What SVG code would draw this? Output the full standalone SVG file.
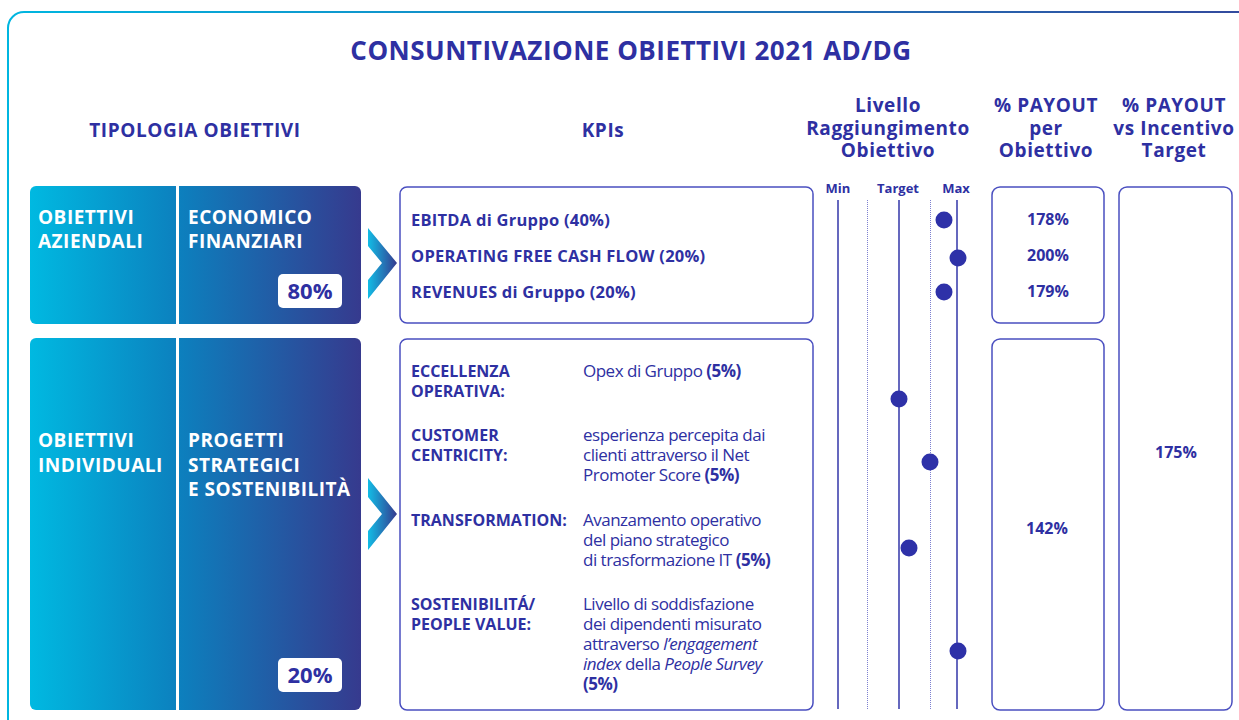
<svg xmlns="http://www.w3.org/2000/svg" width="1239" height="720" viewBox="0 0 1239 720">
  <defs>
    <linearGradient id="gFrame" x1="0" y1="0" x2="1" y2="0">
      <stop offset="0" stop-color="#00b6e0"/>
      <stop offset="1" stop-color="#34479c"/>
    </linearGradient>
    <linearGradient id="gBox" gradientUnits="userSpaceOnUse" x1="30" y1="0" x2="361" y2="0">
      <stop offset="0" stop-color="#00b9e1"/>
      <stop offset="0.45" stop-color="#0c80be"/>
      <stop offset="1" stop-color="#363a8e"/>
    </linearGradient>
    <linearGradient id="gChev" x1="0" y1="0" x2="1" y2="0">
      <stop offset="0" stop-color="#12bde6"/>
      <stop offset="1" stop-color="#35398e"/>
    </linearGradient>
    <style>
      text { font-family: "Open Sans", "Lato", "Liberation Sans", sans-serif; fill: #2e30a2; }
      .h { font-weight: 700; font-size: 19px; letter-spacing: 0.6px; }
      .title { font-weight: 700; font-size: 26px; letter-spacing: 0.5px; }
      .w { fill: #ffffff; font-weight: 700; font-size: 19px; letter-spacing: 0.5px; }
      .pct { font-weight: 700; font-size: 22px; }
      .kb { font-weight: 700; font-size: 16.5px; letter-spacing: 0.25px; }
      .lb { font-weight: 700; font-size: 16px; }
      .ds { font-weight: 400; font-size: 17px; letter-spacing: -0.5px; }
      .b { font-weight: 700; }
      .sm { font-weight: 700; font-size: 13px; }
      .val { font-weight: 700; font-size: 16px; }
      .box { fill: #ffffff; stroke: #4a4fc0; stroke-width: 1.5; }
      .solid { stroke: #3236a8; stroke-width: 1.5; }
      .dot { stroke: #7d80d0; stroke-width: 1; stroke-dasharray: 1 1; }
      .pt { fill: #2e31a8; }
    </style>
  </defs>

  <rect width="1239" height="720" fill="#ffffff"/>
  <rect x="8" y="12" width="1270" height="740" rx="16" fill="none" stroke="url(#gFrame)" stroke-width="2"/>

  <text class="title" x="631" y="60" text-anchor="middle">CONSUNTIVAZIONE OBIETTIVI 2021 AD/DG</text>

  <g id="headers">
    <text class="h" x="195" y="137" text-anchor="middle">TIPOLOGIA OBIETTIVI</text>
    <text class="h" x="603" y="137" text-anchor="middle">KPIs</text>
    <text class="h" x="888" y="112" text-anchor="middle">Livello</text>
    <text class="h" x="888" y="135" text-anchor="middle">Raggiungimento</text>
    <text class="h" x="888" y="157" text-anchor="middle">Obiettivo</text>
    <text class="h" x="1046" y="112" text-anchor="middle">% PAYOUT</text>
    <text class="h" x="1046" y="135" text-anchor="middle">per</text>
    <text class="h" x="1046" y="157" text-anchor="middle">Obiettivo</text>
    <text class="h" x="1174" y="112" text-anchor="middle">% PAYOUT</text>
    <text class="h" x="1174" y="135" text-anchor="middle">vs Incentivo</text>
    <text class="h" x="1174" y="157" text-anchor="middle">Target</text>
    <text class="sm" x="838" y="193" text-anchor="middle">Min</text>
    <text class="sm" x="898" y="193" text-anchor="middle">Target</text>
    <text class="sm" x="956" y="193" text-anchor="middle">Max</text>
  </g>

  <g id="obiettivi-aziendali">
    <rect x="30" y="186" width="331" height="138" rx="6" fill="url(#gBox)"/>
    <line x1="177.5" y1="186" x2="177.5" y2="324" stroke="#ffffff" stroke-width="3"/>
    <text class="w" x="38" y="224">OBIETTIVI</text>
    <text class="w" x="38" y="248">AZIENDALI</text>
    <text class="w" x="188" y="224">ECONOMICO</text>
    <text class="w" x="188" y="248">FINANZIARI</text>
    <rect x="278" y="274" width="64" height="34" rx="5" fill="#ffffff"/>
    <text class="pct" x="310" y="299" text-anchor="middle">80%</text>
  </g>

  <g id="obiettivi-individuali">
    <rect x="30" y="338" width="331" height="372" rx="6" fill="url(#gBox)"/>
    <line x1="177.5" y1="338" x2="177.5" y2="710" stroke="#ffffff" stroke-width="3"/>
    <text class="w" x="38" y="447">OBIETTIVI</text>
    <text class="w" x="38" y="472">INDIVIDUALI</text>
    <text class="w" x="188" y="447">PROGETTI</text>
    <text class="w" x="188" y="472">STRATEGICI</text>
    <text class="w" x="188" y="496">E SOSTENIBILITÀ</text>
    <rect x="278" y="658" width="64" height="34" rx="5" fill="#ffffff"/>
    <text class="pct" x="310" y="683" text-anchor="middle">20%</text>
  </g>

  <g id="connectors">
    <polygon points="368,228 397,263 368,299 368,280 382,263 368,246" fill="url(#gChev)"/>
    <polygon points="368,478 397,514 368,550 368,531 382,514 368,497" fill="url(#gChev)"/>
  </g>

  <g id="kpi-economici">
    <rect class="box" x="400" y="187" width="413" height="136" rx="7"/>
    <text class="kb" x="411" y="226">EBITDA di Gruppo (40%)</text>
    <text class="kb" x="411" y="262">OPERATING FREE CASH FLOW (20%)</text>
    <text class="kb" x="411" y="298">REVENUES di Gruppo (20%)</text>
  </g>

  <g id="kpi-individuali">
    <rect class="box" x="400" y="339" width="413" height="371" rx="7"/>
    <text class="lb" x="411" y="377">ECCELLENZA</text>
    <text class="lb" x="411" y="397">OPERATIVA:</text>
    <text class="ds" x="583" y="377">Opex di Gruppo <tspan class="b">(5%)</tspan></text>
    <text class="lb" x="411" y="441">CUSTOMER</text>
    <text class="lb" x="411" y="461">CENTRICITY:</text>
    <text class="ds" x="583" y="441">esperienza percepita dai</text>
    <text class="ds" x="583" y="461">clienti attraverso il Net</text>
    <text class="ds" x="583" y="481">Promoter Score <tspan class="b">(5%)</tspan></text>
    <text class="lb" x="411" y="526">TRANSFORMATION:</text>
    <text class="ds" x="583" y="526">Avanzamento operativo</text>
    <text class="ds" x="583" y="546">del piano strategico</text>
    <text class="ds" x="583" y="566">di trasformazione IT <tspan class="b">(5%)</tspan></text>
    <text class="lb" x="411" y="610">SOSTENIBILITÁ/</text>
    <text class="lb" x="411" y="630">PEOPLE VALUE:</text>
    <text class="ds" x="583" y="610">Livello di soddisfazione</text>
    <text class="ds" x="583" y="630">dei dipendenti misurato</text>
    <text class="ds" x="583" y="650">attraverso <tspan font-style="italic">l’engagement</tspan></text>
    <text class="ds" x="583" y="670"><tspan font-style="italic">index</tspan> della <tspan font-style="italic">People Survey</tspan></text>
    <text class="ds" x="583" y="690"><tspan class="b">(5%)</tspan></text>
  </g>

  <g id="livello-chart">
    <line class="solid" x1="838" y1="200" x2="838" y2="709"/>
    <line class="dot" x1="867.5" y1="200" x2="867.5" y2="709"/>
    <line class="solid" x1="899" y1="200" x2="899" y2="709"/>
    <line class="dot" x1="930.5" y1="200" x2="930.5" y2="709"/>
    <line class="solid" x1="957" y1="200" x2="957" y2="709"/>
    <circle class="pt" cx="944" cy="220" r="8.5"/>
    <circle class="pt" cx="958" cy="258" r="8.5"/>
    <circle class="pt" cx="944" cy="292" r="8.5"/>
    <circle class="pt" cx="899" cy="399" r="8.5"/>
    <circle class="pt" cx="930" cy="462" r="8.5"/>
    <circle class="pt" cx="909" cy="548" r="8.5"/>
    <circle class="pt" cx="958" cy="651" r="8.5"/>
  </g>

  <g id="payout-obiettivo">
    <rect class="box" x="992" y="187" width="112" height="136" rx="8"/>
    <text class="val" x="1048" y="225" text-anchor="middle">178%</text>
    <text class="val" x="1048" y="261" text-anchor="middle">200%</text>
    <text class="val" x="1048" y="297" text-anchor="middle">179%</text>
    <rect class="box" x="992" y="339" width="112" height="371" rx="8"/>
    <text class="val" x="1047" y="534" text-anchor="middle">142%</text>
  </g>

  <g id="payout-target">
    <rect class="box" x="1119" y="187" width="113" height="523" rx="8"/>
    <text class="val" x="1176" y="458" text-anchor="middle">175%</text>
  </g>
</svg>
